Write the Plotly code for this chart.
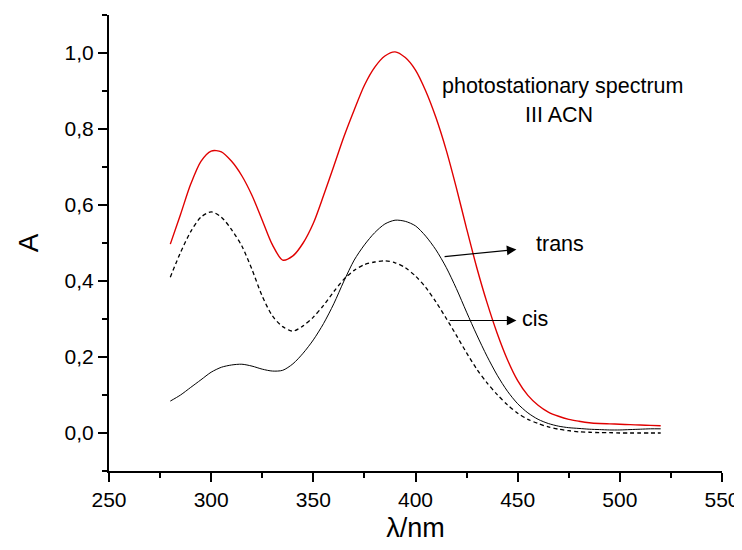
import plotly.graph_objects as go

# wavelength grid (nm)
wl = list(range(280, 525, 5))

# photostationary spectrum (red)
pss = [0.497, 0.575, 0.655, 0.715, 0.742, 0.740, 0.715, 0.677, 0.625, 0.560,
       0.495, 0.455, 0.466, 0.500, 0.552, 0.625, 0.702, 0.780, 0.850, 0.915,
       0.962, 0.992, 1.003, 0.988, 0.955, 0.900, 0.830, 0.745, 0.645, 0.538,
       0.435, 0.343, 0.262, 0.193, 0.138, 0.099, 0.073, 0.055, 0.044, 0.036,
       0.031, 0.027, 0.025, 0.024, 0.023, 0.022, 0.021, 0.020, 0.019]

# trans isomer (solid black)
trans = [0.084, 0.100, 0.120, 0.140, 0.160, 0.173, 0.179, 0.181, 0.176, 0.168,
         0.163, 0.165, 0.182, 0.210, 0.245, 0.288, 0.340, 0.400, 0.455, 0.495,
         0.527, 0.550, 0.560, 0.557, 0.545, 0.518, 0.482, 0.436, 0.380, 0.318,
         0.258, 0.202, 0.152, 0.110, 0.077, 0.053, 0.036, 0.025, 0.018, 0.014,
         0.012, 0.010, 0.009, 0.008, 0.008, 0.009, 0.010, 0.011, 0.011]

# cis isomer (dashed black)
cis = [0.410, 0.475, 0.530, 0.568, 0.582, 0.568, 0.535, 0.492, 0.430, 0.360,
       0.308, 0.280, 0.268, 0.282, 0.305, 0.336, 0.372, 0.405, 0.428, 0.443,
       0.450, 0.453, 0.448, 0.435, 0.413, 0.383, 0.345, 0.302, 0.257, 0.211,
       0.168, 0.132, 0.101, 0.074, 0.052, 0.036, 0.025, 0.016, 0.010, 0.006,
       0.003, 0.002, 0.001, 0.001, 0.000, 0.000, 0.000, 0.000, 0.000]

FONT = "Liberation Sans, Arial, sans-serif"

fig = go.Figure()
fig.add_trace(go.Scatter(x=wl, y=pss, mode="lines", line_shape="spline",
                         line=dict(color="#e00000", width=1.4, smoothing=0.8)))
fig.add_trace(go.Scatter(x=wl, y=trans, mode="lines", line_shape="spline",
                         line=dict(color="black", width=1, smoothing=0.8)))
fig.add_trace(go.Scatter(x=wl, y=cis, mode="lines", line_shape="spline",
                         line=dict(color="black", width=1.3, dash="4px,3px",
                                   smoothing=0.8)))

# labels with arrows
fig.add_annotation(x=449.4, y=0.483, ax=413.5, ay=0.464, axref="x", ayref="y",
                   text="", showarrow=True, arrowhead=2, arrowsize=1.6,
                   arrowwidth=1.2, arrowcolor="black")
fig.add_annotation(x=449.4, y=0.296, ax=416, ay=0.296, axref="x", ayref="y",
                   text="", showarrow=True, arrowhead=2, arrowsize=1.6,
                   arrowwidth=1.2, arrowcolor="black")
fig.add_annotation(x=470.6, y=0.497, text="trans", showarrow=False,
                   font=dict(size=21.5, color="black", family=FONT))
fig.add_annotation(x=458.6, y=0.30, text="cis", showarrow=False,
                   font=dict(size=21.5, color="black", family=FONT))
fig.add_annotation(x=472.0, y=0.913, text="photostationary spectrum", showarrow=False,
                   font=dict(size=21.5, color="black", family=FONT))
fig.add_annotation(x=470.2, y=0.838, text="III ACN", showarrow=False,
                   font=dict(size=21.5, color="black", family=FONT))

fig.update_xaxes(range=[250, 550], dtick=50, tick0=250, ticks="outside",
                 ticklen=9, tickwidth=2, tickcolor="black",
                 showline=True, linewidth=2, linecolor="black",
                 showgrid=False, zeroline=False, automargin=False,
                 minor=dict(dtick=25, ticks="outside", ticklen=5, tickwidth=2,
                            tickcolor="black"),
                 tickfont=dict(size=21, color="black", family=FONT),
                 title=dict(text="λ/nm", font=dict(size=27, color="black", family=FONT),
                            standoff=8))
fig.update_yaxes(range=[-0.1, 1.1], dtick=0.2, tick0=0, tickformat=".1f",
                 ticks="outside", ticklen=9, tickwidth=2, tickcolor="black",
                 showline=True, linewidth=2, linecolor="black",
                 showgrid=False, zeroline=False, automargin=False,
                 minor=dict(dtick=0.1, tick0=0.1, ticks="outside", ticklen=5,
                            tickwidth=2, tickcolor="black"),
                 tickfont=dict(size=21, color="black", family=FONT),
                 title=dict(text="A", font=dict(size=28, color="black", family=FONT),
                            standoff=18))

# page body adds an 8px offset, so the figure is sized to fit the window
fig.update_layout(width=734, height=542, showlegend=False,
                  separators=", ",
                  margin=dict(l=101, r=20, t=7, b=79),
                  paper_bgcolor="white", plot_bgcolor="white")

fig.write_html("out.html")
